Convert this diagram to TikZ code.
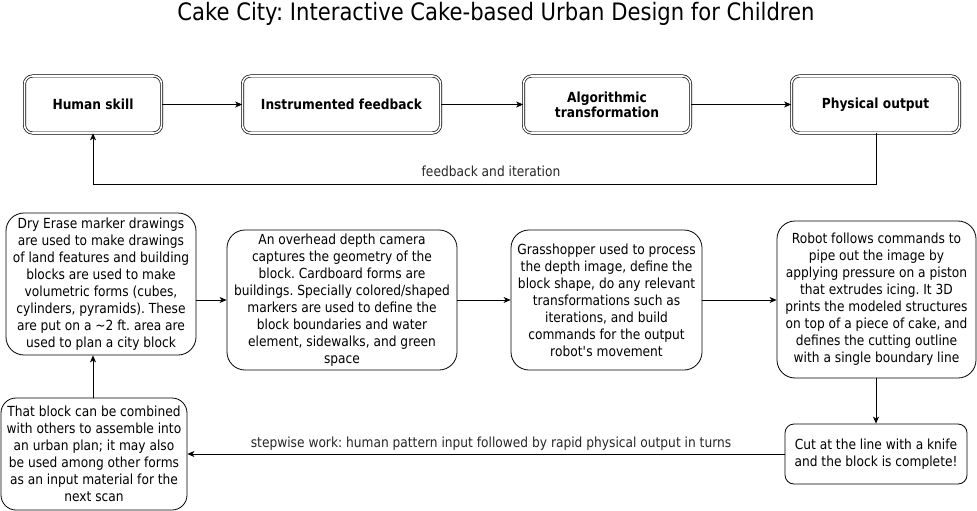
\documentclass[tikz,border=0pt]{standalone}
\usepackage{fontspec}
\setmainfont{DejaVu Sans}[FakeStretch=0.88]
\usetikzlibrary{arrows.meta}
\frenchspacing
\begin{document}
\begin{tikzpicture}[x=1pt,y=-1pt,
  topbox/.style={draw, double, double distance=1.6pt, line width=0.7pt, rounded corners=8pt,
    inner sep=0pt, align=center, font=\bfseries\fontsize{13.9}{15}\selectfont},
  midbox/.style={draw, line width=0.8pt, rounded corners=#1, inner sep=0pt, align=center,
    font=\fontsize{13.9}{17}\selectfont},
  conn/.style={line width=0.8pt, -{Stealth[length=7pt,width=6pt,inset=2pt]}},
  lbl/.style={font=\fontsize{13.9}{17}\selectfont, text=black!85}]
\useasboundingbox (0,0) rectangle (977,511);
\node[font=\fontsize{24}{28}\selectfont] (title) at (496,14) {Cake City: Interactive Cake-based Urban Design for Children};
% top row
\node[topbox, minimum width=137pt, minimum height=57pt] (hs) at (93,104.5) {Human skill};
\node[topbox, minimum width=198pt, minimum height=57pt] (inf) at (341.5,104.5) {Instrumented feedback};
\node[topbox, minimum width=167pt, minimum height=57pt] (alg) at (607,104.5) {Algorithmic\\transformation};
\node[topbox, minimum width=168pt, minimum height=57pt] (phy) at (875.5,104.5) {Physical output};
\draw[conn] (hs) -- (inf);
\draw[conn] (inf) -- (alg);
\draw[conn] (alg) -- (phy);
\coordinate (fbR) at (876,184);
\coordinate (fbL) at (93,184);
\draw[conn] (phy.south -| fbR) -- (fbR) -- (fbL) -- (hs.south -| fbL);
\node[lbl] (fblabel) at (491,171) {feedback and iteration};
% middle row
\node[midbox=18pt, minimum width=190pt, minimum height=142pt] (b1) at (101,284)
  {Dry Erase marker drawings\\are used to make drawings\\of land features and building\\blocks are used to make\\volumetric forms (cubes,\\cylinders, pyramids). These\\are put on a \textasciitilde2 ft. area are\\used to plan a city block};
\node[midbox=18pt, minimum width=230pt, minimum height=140pt] (b2) at (342,300)
  {An overhead depth camera\\captures the geometry of the\\block. Cardboard forms are\\buildings. Specially colored/shaped\\markers are used to define the\\block boundaries and water\\element, sidewalks, and green\\space};
\node[midbox=18pt, minimum width=191pt, minimum height=140pt] (b3) at (606.5,300)
  {Grasshopper used to process\\the depth image, define the\\block shape, do any relevant\\transformations such as\\iterations, and build\\commands for the output\\robot\textquotesingle s movement};
\node[midbox=18pt, minimum width=199pt, minimum height=157pt] (b4) at (876.5,299.5)
  {Robot follows commands to\\pipe out the image by\\applying pressure on a piston\\that extrudes icing. It 3D\\prints the modeled structures\\on top of a piece of cake, and\\defines the cutting outline\\with a single boundary line};
\draw[conn] (b1.east |- b2.west) -- (b2.west);
\draw[conn] (b2) -- (b3);
\draw[conn] (b3) -- (b4.west |- b3.east);
% bottom row
\node[midbox=15pt, minimum width=186pt, minimum height=112pt] (b5) at (94,454)
  {That block can be combined\\with others to assemble into\\an urban plan; it may also\\be used among other forms\\as an input material for the\\next scan};
\node[midbox=9pt, minimum width=182pt, minimum height=60pt] (b6) at (876,454)
  {Cut at the line with a knife\\and the block is complete!};
\draw[conn] (b4.south -| b6.north) -- (b6.north);
\draw[conn] (b6.west) -- (b5.east |- b6.west);
\node[lbl] (swlabel) at (491,444) {stepwise work: human pattern input followed by rapid physical output in turns};
\draw[conn] (b5.north -| 93,0) -- (b1.south -| 93,0);
\end{tikzpicture}
\end{document}
